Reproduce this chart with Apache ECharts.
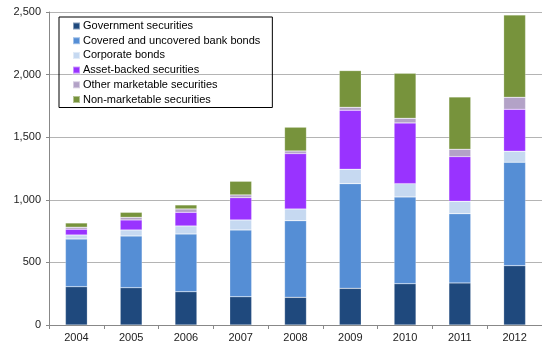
<!DOCTYPE html>
<html>
<head>
<meta charset="utf-8">
<script src="https://cdn.jsdelivr.net/npm/echarts@6/dist/echarts.min.js"></script>
<style>
  html, body { margin: 0; padding: 0; background: #fff; }
  #main { width: 542px; height: 347px; }
</style>
</head>
<body>
<div id="main"></div>
<script>
var years = ['2004', '2005', '2006', '2007', '2008', '2009', '2010', '2011', '2012'];
var government = [306, 298, 266, 226, 221, 293, 330, 336, 474];
var covered = [381, 413, 461, 533, 612, 836, 693, 553, 826];
var corporate = [32, 48, 64, 80, 94, 115, 106, 99, 88];
var assetBacked = [46, 80, 109, 178, 442, 471, 485, 357, 335];
var otherMarketable = [16, 21, 27, 22, 21, 24, 37, 59, 96];
var nonMarketable = [34, 40, 32, 109, 190, 293, 360, 418, 658];

var seriesDefs = [
    { name: 'Government securities', data: government, color: '#1f497d' },
    { name: 'Covered and uncovered bank bonds', data: covered, color: '#558ed5' },
    { name: 'Corporate bonds', data: corporate, color: '#c6d9f1' },
    { name: 'Asset-backed securities', data: assetBacked, color: '#9933ff' },
    { name: 'Other marketable securities', data: otherMarketable, color: '#b3a2c7' },
    { name: 'Non-marketable securities', data: nonMarketable, color: '#77933c' }
];

var myChart = echarts.init(document.getElementById('main'));

var option = {
    animation: false,
    textStyle: { fontFamily: 'Liberation Sans, Arial, sans-serif' },
    grid: { left: 49, right: 0, top: 12, bottom: 22 },
    legend: {
        orient: 'vertical',
        left: 59,
        top: 17,
        padding: [3, 12, 2, 13],
        itemWidth: 7,
        itemHeight: 7,
        itemGap: 2.7,
        borderColor: '#000',
        borderWidth: 1,
        icon: 'rect',
        textStyle: {
            color: '#000',
            fontSize: 11,
            lineHeight: 12,
            padding: [0, 0, 0, -2]
        },
        data: seriesDefs.map(function (s) { return s.name; })
    },
    xAxis: {
        type: 'category',
        data: years,
        axisLine: { lineStyle: { color: '#888', width: 1 } },
        axisTick: { show: true, length: 4, lineStyle: { color: '#888' } },
        axisLabel: { color: '#222', fontSize: 11, margin: 7 }
    },
    yAxis: {
        type: 'value',
        min: 0,
        max: 2500,
        interval: 500,
        axisLine: { show: true, lineStyle: { color: '#888', width: 1 } },
        axisTick: { show: true, length: 3, lineStyle: { color: '#888' } },
        splitLine: { lineStyle: { color: '#b4b4b4', width: 1 } },
        axisLabel: {
            color: '#222',
            fontSize: 11,
            margin: 8,
            formatter: function (v) {
                return String(v).replace(/\B(?=(\d{3})+(?!\d))/g, ',');
            }
        }
    },
    series: seriesDefs.map(function (s) {
        return {
            name: s.name,
            type: 'bar',
            stack: 'total',
            barCategoryGap: '60%',
            data: s.data,
            itemStyle: {
                color: s.color,
                borderColor: 'rgba(255,255,255,0.45)',
                borderWidth: 0.5
            }
        };
    })
};

myChart.setOption(option);
</script>
</body>
</html>
